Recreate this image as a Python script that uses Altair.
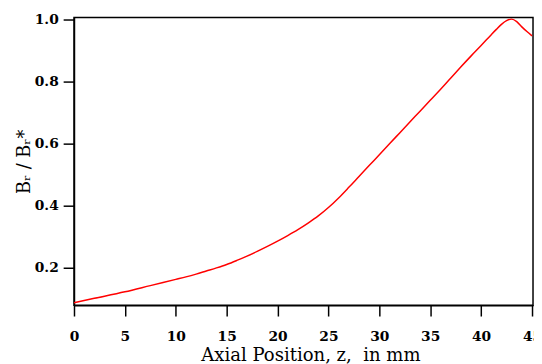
import altair as alt
import pandas as pd

z = [0, 2, 5, 7.5, 10, 11, 12, 13, 14, 15, 16, 17, 18, 19, 20, 21, 22, 23, 24,
     25, 26, 27, 28, 29, 30, 31, 32, 33, 34, 35, 36, 37, 38, 39, 40, 41,
     41.5, 42, 42.5, 43, 43.5, 44, 44.5, 45]
br = [0.088, 0.102, 0.123, 0.143, 0.163, 0.171, 0.180, 0.190, 0.200, 0.211,
      0.224, 0.238, 0.253, 0.269, 0.286, 0.304, 0.323, 0.344, 0.367,
      0.394, 0.425, 0.459, 0.494, 0.529, 0.564, 0.599, 0.634, 0.669, 0.704,
      0.739, 0.774, 0.810, 0.846, 0.881, 0.915, 0.950,
      0.967, 0.983, 0.995, 1.000, 0.992, 0.975, 0.960, 0.946]

x_ticks = [0, 5, 10, 15, 20, 25, 30, 35, 40, 45]
y_ticks = [0.2, 0.4, 0.6, 0.8, 1.0]

df = pd.DataFrame({"z": z, "br": br})

FONT = "DejaVu Serif"

chart = alt.Chart(df).mark_line(color="#ff0000", strokeWidth=1.5, interpolate="monotone").encode(
    x=alt.X("z:Q",
            scale=alt.Scale(domain=[0, 45.1], nice=False, zero=False),
            axis=alt.Axis(values=x_ticks, format="d", title="Axial Position, z,\u00a0 in mm",
                          titleX=240, titleY=56, titleBaseline="alphabetic",
                          titleFont=FONT, titleFontSize=18.3, titleFontWeight="normal",
                          labelPadding=14, labelFlush=False, labelOverlap=False)),
    y=alt.Y("br:Q",
            scale=alt.Scale(domain=[0.08, 1.005], nice=False, zero=False),
            axis=alt.Axis(values=y_ticks, format=".1f", title="B\u1d63 / B\u1d63*",
                          titleX=-45, titleY=146, titleBaseline="alphabetic",
                          titleFont=FONT, titleFontSize=18, titleFontWeight="normal",
                          labelPadding=5, labelFlush=False, labelOverlap=False)),
).properties(
    width=466, height=292,
    autosize=alt.AutoSizeParams(type="none"),
    padding={"left": 67, "top": 7, "right": 1, "bottom": 57},
).configure_view(
    stroke="black", strokeWidth=1.5
).configure_axis(
    grid=False, domainColor="black", domainWidth=1.5,
    tickColor="black", tickWidth=1.5, tickSize=11,
    labelFont=FONT, labelFontSize=14, labelFontWeight="bold", labelColor="black",
    titleColor="black",
)

chart.save("out.html", embed_options={"renderer": "svg", "actions": False})
